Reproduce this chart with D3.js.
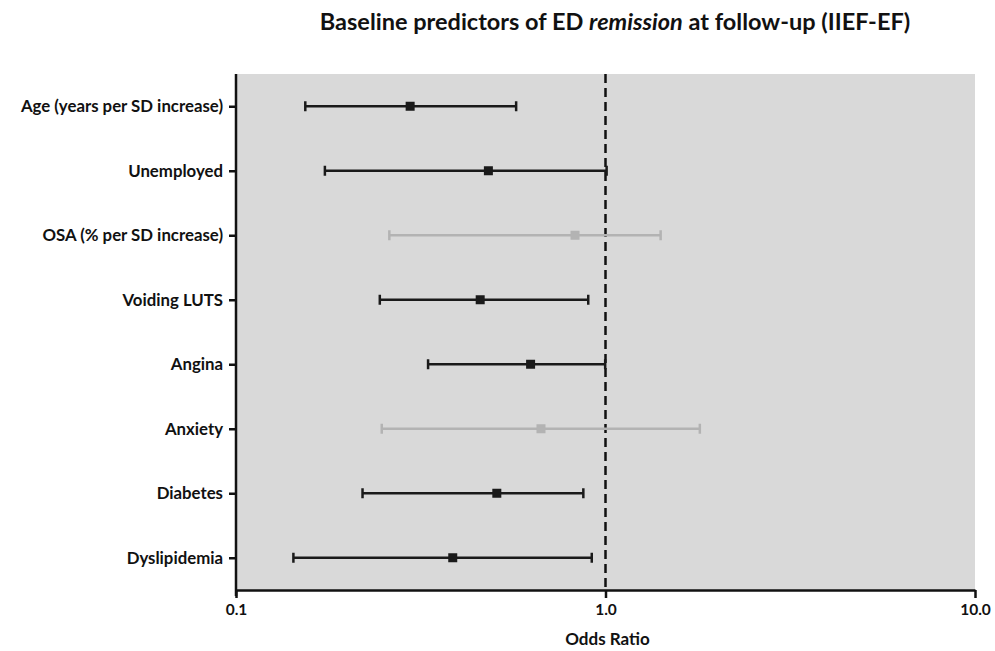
<!DOCTYPE html>
<html>
<head>
<meta charset="utf-8">
<script src="https://cdn.jsdelivr.net/npm/d3@7"></script>
<style>
  body { margin: 0; background: #fff; }
  text { font-family: "Lato", "Open Sans", sans-serif; }
</style>
</head>
<body>
<svg id="chart" width="995" height="651"></svg>
<script>
const predictors = ["Age (years per SD increase)", "Unemployed", "OSA (% per SD increase)", "Voiding LUTS", "Angina", "Anxiety", "Diabetes", "Dyslipidemia"]
const oddsRatio = [0.296, 0.482, 0.827, 0.458, 0.627, 0.669, 0.508, 0.386]
const lowerCI = [0.154, 0.174, 0.260, 0.245, 0.331, 0.248, 0.220, 0.143]
const upperCI = [0.573, 1.007, 1.41, 0.898, 0.998, 1.80, 0.871, 0.918]
// predictors whose CI crosses 1 are drawn grey
const significant = [true, true, false, true, true, false, true, true]
const xTicks = [0.1, 1, 10]

const rows = predictors.map((name, i) => ({
  name, or: oddsRatio[i], lo: lowerCI[i], hi: upperCI[i], sig: significant[i]
}))

const svg = d3.select("#chart")
const plot_left = 236, plot_right = 975, plot_top = 74, plot_bottom = 590

const x = d3.scaleLog().domain([0.1, 10]).range([plot_left, plot_right])
const y = d3.scalePoint().domain(predictors).range([plot_top, plot_bottom]).padding(0.5)

// grey plot background
svg.append("rect")
  .attr("x", plot_left).attr("y", plot_top)
  .attr("width", plot_right - plot_left).attr("height", plot_bottom - plot_top)
  .attr("fill", "#d9d9d9")

// reference line at OR = 1
svg.append("line")
  .attr("x1", x(1)).attr("x2", x(1))
  .attr("y1", plot_top).attr("y2", plot_bottom)
  .attr("stroke", "#111").attr("stroke-width", 2.5)
  .attr("stroke-dasharray", "9,5")

// y axis
const yAxis = svg.append("g")
  .attr("transform", `translate(${plot_left},0)`)
  .call(d3.axisLeft(y).tickSize(7).tickPadding(6))
yAxis.select(".domain").remove()
yAxis.append("line")
  .attr("x1", 0).attr("x2", 0).attr("y1", plot_top).attr("y2", plot_bottom + 6)
  .attr("stroke", "#111").attr("stroke-width", 2.5)
yAxis.selectAll(".tick line").attr("stroke", "#111").attr("stroke-width", 2.5)
yAxis.selectAll(".tick text")
  .attr("fill", "#111").attr("font-size", "16.8px").attr("font-weight", "bold")

// x axis
const xAxis = svg.append("g")
  .attr("transform", `translate(0,${plot_bottom})`)
  .call(d3.axisBottom(x).tickValues(xTicks).tickFormat(d3.format(".1f")).tickSize(8).tickSizeOuter(0).tickPadding(6))
xAxis.select(".domain").attr("stroke", "#111").attr("stroke-width", 2.5)
xAxis.selectAll(".tick line").attr("stroke", "#111").attr("stroke-width", 2.5)
xAxis.selectAll(".tick text")
  .attr("fill", "#111").attr("font-size", "15.5px").attr("font-weight", "bold")

// error bars
const g = svg.append("g")
  .selectAll("g")
  .data(rows)
  .enter()
  .append("g")
  .attr("stroke", d => d.sig ? "#1a1a1a" : "#b3b3b3")
  .attr("fill", d => d.sig ? "#1a1a1a" : "#b3b3b3")
  .attr("stroke-width", 2.5)

g.append("line")
  .attr("x1", d => x(d.lo)).attr("x2", d => x(d.hi))
  .attr("y1", d => y(d.name)).attr("y2", d => y(d.name))
g.append("line")
  .attr("x1", d => x(d.lo)).attr("x2", d => x(d.lo))
  .attr("y1", d => y(d.name) - 5).attr("y2", d => y(d.name) + 5)
g.append("line")
  .attr("x1", d => x(d.hi)).attr("x2", d => x(d.hi))
  .attr("y1", d => y(d.name) - 5).attr("y2", d => y(d.name) + 5)
g.append("rect")
  .attr("stroke", "none")
  .attr("x", d => x(d.or) - 4.5).attr("y", d => y(d.name) - 4.5)
  .attr("width", 9).attr("height", 9)

// title
const title = svg.append("text")
  .attr("x", 615).attr("y", 30)
  .attr("text-anchor", "middle")
  .attr("font-size", "23.5px").attr("font-weight", "bold").attr("fill", "#111")
title.append("tspan").text("Baseline predictors of ED ")
title.append("tspan").attr("font-style", "italic").text("remission")
title.append("tspan").text(" at follow-up (IIEF-EF)")

// x axis label
svg.append("text")
  .attr("x", x(1) + 2).attr("y", 645)
  .attr("text-anchor", "middle")
  .attr("font-size", "17px").attr("font-weight", "bold").attr("fill", "#111")
  .text("Odds Ratio")
</script>
</body>
</html>
